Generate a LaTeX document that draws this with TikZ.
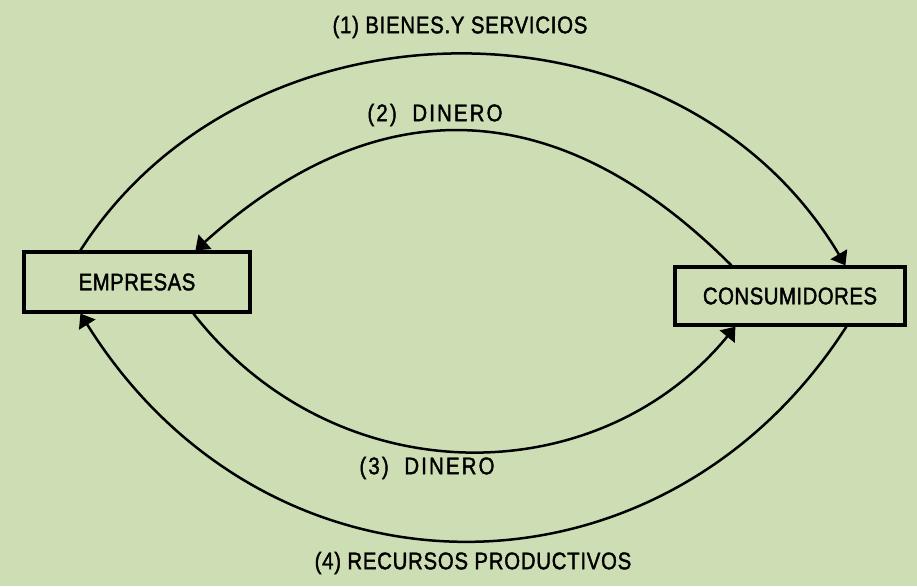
\documentclass[tikz,border=0pt]{standalone}
\usepackage{fontspec}
\setmainfont{Liberation Sans}[FakeStretch=0.85,FakeBold=1.6]
\usepackage{tikz}
\usetikzlibrary{arrows.meta,positioning}
\definecolor{paper}{RGB}{206,222,180}
\tikzset{
    sector/.style={
            rectangle,
            draw,
            line width=3.2pt,
            font=\fontsize{24}{28}\selectfont\addfontfeature{LetterSpace=2},
            inner sep=0pt
        },
    flow/.style={
            draw,
            line width=2.5pt,
            -{Triangle[length=13pt,width=19pt]}
        },
    flowlabel/.style={
            font=\fontsize{24}{28}\selectfont\addfontfeature{LetterSpace=3},
            inner sep=0pt
        },
    spaced/.style={
            flowlabel,
            font=\fontsize{24}{28}\selectfont\addfontfeature{LetterSpace=9}
        }
}

\begin{document}
\begin{tikzpicture}[x=1pt,y=-1pt]
  \fill[paper] (0,0) rectangle (917,586);
  \useasboundingbox (0,0) rectangle (917,586);
  % the two sectors
  \node[sector, minimum width=226pt, minimum height=60pt] (emp) at (137,282) {EMPRESAS};
  \node[sector, minimum width=230pt, minimum height=58pt] (cons) at (790,296) {CONSUMIDORES};
  % labels of the flows
  \node[flowlabel] (bienes) at (460,27) {(1) BIENES.Y SERVICIOS};
  \node[spaced] (din2) at (435,115) {(2)~ DINERO};
  \node[spaced] (din3) at (427,468) {(3)~ DINERO};
  \node[flowlabel] (recursos) at (473,563) {(4) RECURSOS PRODUCTIVOS};
  % flows
  \path [flow] ([xshift=58pt]emp.north west) .. controls (249,-13) and (680,-13) .. ([xshift=172pt]cons.north west);
  \path [flow] ([xshift=58pt]cons.north west) .. controls (555,89) and (375,89) .. ([xshift=173pt]emp.north west);
  \path [flow] ([xshift=171pt]emp.south west) .. controls (335,495) and (597,495) .. ([xshift=62pt]cons.south west);
  \path [flow] ([xshift=173pt]cons.south west) .. controls (662,614) and (268,614) .. ([xshift=58pt]emp.south west);
\end{tikzpicture}
\end{document}
